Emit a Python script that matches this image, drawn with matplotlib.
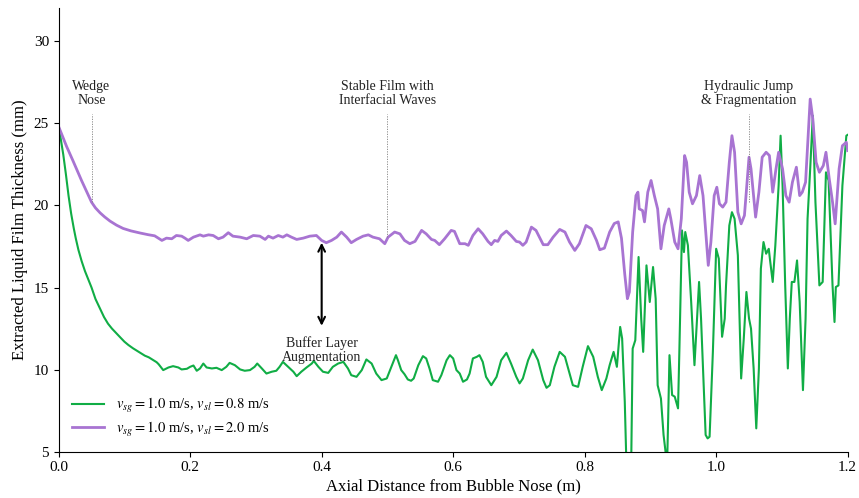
import matplotlib
matplotlib.use('Agg')
from matplotlib import pyplot as plt

plt.rcParams['font.family'] = ['Liberation Serif', 'DejaVu Serif']
plt.rcParams['mathtext.fontset'] = 'stix'

# Film thickness traces (x in m, thickness in mm)
green_x = [0.000, 0.003, 0.007, 0.011, 0.015, 0.019, 0.023, 0.026, 0.030, 0.035, 0.040, 0.045, 0.050, 0.056, 0.063,
           0.069, 0.075, 0.081, 0.088, 0.094, 0.100, 0.106, 0.113, 0.119, 0.125, 0.131, 0.137, 0.143, 0.149,
           0.152, 0.159, 0.167, 0.174, 0.182, 0.187, 0.195, 0.200, 0.205, 0.210, 0.215, 0.220, 0.225, 0.233, 0.240,
           0.248, 0.255, 0.260, 0.268, 0.276, 0.283, 0.291, 0.298, 0.302, 0.309, 0.316, 0.324, 0.331, 0.336, 0.341,
           0.349, 0.357, 0.362, 0.369, 0.377, 0.385, 0.388, 0.395, 0.402, 0.410, 0.417, 0.425, 0.433, 0.440, 0.445,
           0.453, 0.461, 0.468, 0.476, 0.483, 0.491, 0.499, 0.506, 0.513, 0.516, 0.521, 0.526, 0.531, 0.536, 0.540,
           0.547, 0.554, 0.559, 0.564, 0.569, 0.577, 0.582, 0.590, 0.595, 0.600, 0.605, 0.610, 0.615, 0.621, 0.625,
           0.630, 0.636, 0.640, 0.645, 0.650, 0.658, 0.666, 0.673, 0.681, 0.688, 0.696, 0.701, 0.706, 0.714, 0.721,
           0.729, 0.737, 0.742, 0.747, 0.754, 0.762, 0.770, 0.777, 0.782, 0.790, 0.797, 0.805, 0.813, 0.820, 0.826,
           0.833, 0.838, 0.844, 0.849, 0.854, 0.857, 0.861, 0.863, 0.866, 0.871, 0.873, 0.877, 0.882, 0.886, 0.889,
           0.894, 0.899, 0.904, 0.908, 0.911, 0.916, 0.920, 0.923, 0.925, 0.927, 0.929, 0.933, 0.937, 0.942, 0.944,
           0.948, 0.951, 0.953, 0.957, 0.962, 0.967, 0.974, 0.977, 0.980, 0.984, 0.987, 0.990, 0.995, 1.000, 1.004,
           1.009, 1.013, 1.015, 1.020, 1.024, 1.028, 1.033, 1.038, 1.042, 1.046, 1.050, 1.053, 1.057, 1.061, 1.065,
           1.068, 1.072, 1.076, 1.080, 1.082, 1.086, 1.090, 1.095, 1.098, 1.101, 1.105, 1.109, 1.112, 1.115, 1.119,
           1.123, 1.127, 1.132, 1.136, 1.139, 1.143, 1.147, 1.151, 1.157, 1.162, 1.167, 1.171, 1.177, 1.180, 1.182,
           1.186, 1.192, 1.198, 1.200]
green_y = [24.8, 24.1, 23.1, 21.9, 20.6, 19.5, 18.6, 18.0, 17.3, 16.6, 16.0, 15.5, 15.0, 14.3, 13.7,
           13.2, 12.8, 12.5, 12.2, 11.95, 11.7, 11.5, 11.3, 11.15, 11.0, 10.85, 10.75, 10.6, 10.45,
           10.33, 9.97, 10.13, 10.21, 10.13, 10.01, 10.05, 10.17, 10.25, 9.93, 10.07, 10.37, 10.13, 10.07, 10.11,
           9.97, 10.17, 10.41, 10.27, 10.01, 9.93, 9.97, 10.17, 10.37, 10.07, 9.76, 9.87, 9.93, 10.17, 10.47,
           10.17, 9.87, 9.60, 9.87, 10.13, 10.37, 10.53, 10.17, 9.87, 9.80, 10.17, 10.37, 10.47, 10.07, 9.66,
           9.56, 9.97, 10.62, 10.37, 9.76, 9.36, 9.46, 10.17, 10.88, 10.57, 9.97, 9.72, 9.40, 9.32, 9.46,
           10.27, 10.82, 10.68, 10.07, 9.36, 9.26, 9.66, 10.57, 10.88, 10.68, 9.97, 9.76, 9.26, 9.40, 9.76,
           10.68, 10.78, 10.88, 10.47, 9.56, 9.05, 9.56, 10.57, 11.02, 10.37, 9.56, 9.16, 9.46, 10.57, 11.22,
           10.57, 9.36, 8.89, 9.05, 10.17, 11.08, 10.78, 9.76, 9.05, 8.95, 10.17, 11.43, 10.78, 9.56, 8.75,
           9.46, 10.27, 11.08, 10.17, 12.60, 11.89, 8.04, 5.0, 3.0, 5.0, 11.28, 11.79, 16.86, 13.11, 11.08,
           16.35, 14.12, 16.25, 14.32, 9.05, 8.24, 6.02, 5.0, 3.5, 7.03, 10.88, 8.45, 8.35, 7.64, 11.08,
           18.48, 17.16, 18.38, 17.57, 14.12, 10.27, 15.34, 13.11, 10.07, 6.02, 5.81, 5.91, 11.08, 17.36, 16.76,
           12.0, 13.1, 15.13, 18.78, 19.59, 19.19, 16.96, 9.46, 11.89, 14.73, 13.11, 12.50, 10.07, 6.42, 10.07,
           16.15, 17.77, 17.06, 17.36, 16.65, 15.34, 17.57, 21.21, 24.25, 21.21, 15.13, 10.07, 13.11, 15.34, 15.34,
           16.65, 14.12, 8.75, 13.11, 19.19, 22.23, 25.47, 20.20, 15.13, 15.34, 22.02, 21.52, 15.13, 12.90, 15.03,
           15.13, 21.21, 24.25, 24.3]

purple_x = [0.000, 0.005, 0.012, 0.022, 0.035, 0.050, 0.056, 0.063, 0.070, 0.078, 0.088, 0.098, 0.110, 0.124, 0.136,
            0.146, 0.157, 0.164, 0.172, 0.179, 0.187,
            0.192, 0.197, 0.205, 0.215, 0.220, 0.228, 0.235, 0.243, 0.250, 0.258, 0.265, 0.276, 0.286, 0.296, 0.306,
            0.314, 0.319, 0.326, 0.334, 0.341, 0.347, 0.354, 0.362, 0.372, 0.382, 0.392, 0.400, 0.407, 0.415, 0.423,
            0.430, 0.438, 0.445, 0.453, 0.463, 0.471, 0.478, 0.488, 0.496, 0.501, 0.511, 0.519, 0.526, 0.534, 0.542,
            0.552, 0.559, 0.567, 0.572, 0.579, 0.587, 0.597, 0.602, 0.610, 0.618, 0.623, 0.630, 0.638, 0.645, 0.653,
            0.658, 0.663, 0.668, 0.673, 0.681, 0.688, 0.696, 0.701, 0.706, 0.711, 0.719, 0.726, 0.737, 0.744, 0.752,
            0.762, 0.770, 0.777, 0.785, 0.792, 0.802, 0.810, 0.818, 0.823, 0.830, 0.838, 0.845, 0.851, 0.856, 0.861,
            0.865, 0.868, 0.873, 0.878, 0.881, 0.883, 0.888, 0.891, 0.896, 0.901, 0.906, 0.911, 0.916, 0.921, 0.928,
            0.931, 0.937, 0.942, 0.947, 0.952, 0.955, 0.959, 0.964, 0.970, 0.975, 0.980, 0.985, 0.988, 0.992, 0.997,
            1.001, 1.005, 1.010, 1.015, 1.020, 1.024, 1.028, 1.033, 1.038, 1.043, 1.050, 1.053, 1.060, 1.065, 1.070,
            1.076, 1.081, 1.086, 1.091, 1.095, 1.101, 1.106, 1.111, 1.116, 1.122, 1.127, 1.131, 1.136, 1.143, 1.147,
            1.152, 1.157, 1.163, 1.167, 1.172, 1.177, 1.181, 1.187, 1.192, 1.198, 1.200]
purple_y = [24.8, 24.3, 23.6, 22.7, 21.5, 20.2, 19.85, 19.55, 19.3, 19.05, 18.8, 18.6, 18.45, 18.32, 18.22,
            18.15, 17.87, 18.01, 17.97, 18.17, 18.13,
            18.01, 17.87, 18.07, 18.21, 18.13, 18.21, 18.17, 17.97, 18.07, 18.34, 18.13, 18.07, 17.97, 18.17, 18.13,
            17.93, 18.13, 18.01, 18.17, 18.07, 18.21, 18.07, 17.93, 18.01, 18.13, 18.17, 17.87, 17.73, 17.87, 18.07,
            18.38, 18.07, 17.73, 17.93, 18.13, 18.21, 18.07, 17.97, 17.67, 18.07, 18.38, 18.27, 17.87, 17.67, 17.81,
            18.48, 18.27, 17.93, 17.87, 17.61, 17.97, 18.48, 18.42, 17.67, 17.67, 17.57, 18.17, 18.58, 18.27, 17.81,
            17.61, 17.87, 17.81, 18.17, 18.44, 18.17, 17.81, 17.77, 17.57, 17.77, 18.68, 18.48, 17.61, 17.61, 18.07,
            18.54, 18.38, 17.77, 17.26, 17.67, 18.78, 18.58, 17.87, 17.30, 17.40, 18.38, 18.9, 19.0, 18.0, 15.8,
            14.32, 14.73, 18.38, 20.60, 20.81, 19.79, 19.69, 19.0, 20.81, 21.52, 20.60, 19.79, 17.36, 18.78, 19.79,
            19.19, 17.77, 17.36, 19.19, 23.04, 22.63, 20.81, 20.10, 20.60, 21.82, 20.60, 17.97, 16.35, 17.77, 20.60,
            21.11, 20.10, 19.90, 20.20, 22.63, 24.25, 23.24, 19.59, 18.88, 19.39, 22.94, 22.23, 19.29, 20.81, 22.94,
            23.24, 23.04, 20.81, 22.23, 23.24, 22.23, 20.60, 20.20, 21.42, 22.33, 20.60, 20.81, 21.42, 26.48, 25.27,
            22.63, 22.02, 22.43, 23.24, 21.62, 20.20, 18.88, 22.23, 23.64, 23.85, 23.34]

green_label = r'$v_{sg}=1.0$ m/s, $v_{sl}=0.8$ m/s'
purple_label = r'$v_{sg}=1.0$ m/s, $v_{sl}=2.0$ m/s'

# regime annotations: (text, x, y where dotted line ends)
regimes = [('Wedge\nNose', 0.05, 20.2),
           ('Stable Film with\nInterfacial Waves', 0.5, 18.1),
           ('Hydraulic Jump\n& Fragmentation', 1.05, 20.2)]

green_c = '#10ad45'
purple_c = '#a874d2'

fig = plt.figure(figsize=(8.59, 4.98), dpi=100)
ax = fig.add_axes([0.0683, 0.093, 0.9185, 0.890])

ax.plot(green_x, green_y, color=green_c, lw=1.5, label=green_label, solid_joinstyle='round')
ax.plot(purple_x, purple_y, color=purple_c, lw=2.0, label=purple_label, solid_joinstyle='round')

for txt, xr, yend in regimes:
    ax.plot([xr, xr], [yend, 25.6], color='gray', lw=0.6, ls=(0, (1.5, 1.5)))
    ax.text(xr, 26.0, txt, ha='center', va='bottom', fontsize=10, color='#222222', linespacing=1.05)

# buffer layer arrow
ax.annotate('', xy=(0.4, 17.9), xytext=(0.4, 12.5),
            arrowprops=dict(arrowstyle='<->', color='black', lw=1.5, mutation_scale=12))
ax.text(0.4, 11.2, 'Buffer Layer\nAugmentation', ha='center', va='center', fontsize=10,
        color='#222222', linespacing=1.05)

ax.set_xlim(0, 1.2)
ax.set_ylim(5, 32)
ax.set_yticks([5, 10, 15, 20, 25, 30])
ax.set_xticks([0.0, 0.2, 0.4, 0.6, 0.8, 1.0, 1.2])
ax.set_xlabel('Axial Distance from Bubble Nose (m)', fontsize=12, labelpad=3)
ax.set_ylabel('Extracted Liquid Film Thickness (mm)', fontsize=12)
ax.tick_params(labelsize=11)
ax.spines['top'].set_visible(False)
ax.spines['right'].set_visible(False)

ax.legend(loc='lower left', frameon=False, fontsize=10.5, handlelength=2.2,
          labelspacing=0.3, bbox_to_anchor=(0.0, 0.0))

fig.savefig('out.png', dpi=100)
